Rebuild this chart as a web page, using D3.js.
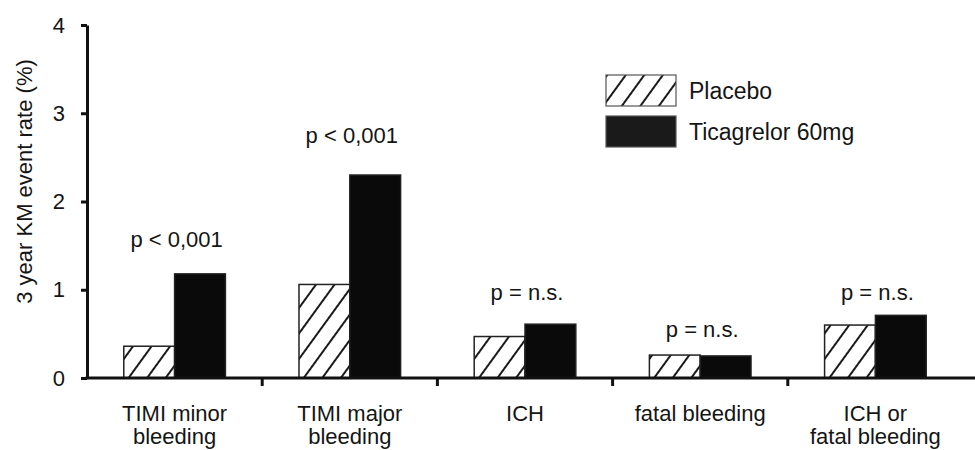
<!DOCTYPE html>
<html>
<head>
<meta charset="utf-8">
<script src="https://cdn.jsdelivr.net/npm/d3@7"></script>
<style>
    body { margin: 0; background: #fff; }
    svg { display: block; font-family: "Liberation Sans", Arial, sans-serif; }
    text { fill: #151515; }
</style>
</head>
<body>
<div id="chart"></div>
<script>
const categories = [
    ["TIMI minor", "bleeding"],
    ["TIMI major", "bleeding"],
    ["ICH"],
    ["fatal bleeding"],
    ["ICH or", "fatal bleeding"]
];
const seriesNames = ["Placebo", "Ticagrelor 60mg"];
const placebo = [0.36, 1.06, 0.47, 0.26, 0.60];
const ticagrelor = [1.18, 2.30, 0.61, 0.25, 0.71];
const pLabels = ["p < 0,001", "p < 0,001", "p = n.s.", "p = n.s.", "p = n.s."];
const pLevels = [1.48, 2.66, 0.88, 0.46, 0.88];
const yTicks = [0, 1, 2, 3, 4];

const WIDTH = 975;
const HEIGHT = 450;
const MARGIN = { top: 25, right: 12, bottom: 72, left: 87 };
const FONT_SIZE = 22;
const INK = "#111";

const svg = d3.select("#chart")
    .append("svg")
    .attr("width", WIDTH)
    .attr("height", HEIGHT);

const defs = svg.append("defs");

const hatch = defs.append("pattern")
    .attr("id", "hatch")
    .attr("patternUnits", "userSpaceOnUse")
    .attr("width", 15)
    .attr("height", 15)
    .attr("patternTransform", "rotate(36)");

hatch.append("rect")
    .attr("width", 15)
    .attr("height", 15)
    .attr("fill", "#fff");

hatch.append("line")
    .attr("x1", 1)
    .attr("y1", 0)
    .attr("x2", 1)
    .attr("y2", 15)
    .attr("stroke", "#1a1a1a")
    .attr("stroke-width", 2);

const x = d3.scaleBand()
    .domain(d3.range(categories.length))
    .range([MARGIN.left, WIDTH - MARGIN.right])
    .paddingInner(0)
    .paddingOuter(0);

const inner = d3.scaleBand()
    .domain([0, 1])
    .range([0, x.bandwidth() * 0.58]);

const y = d3.scaleLinear()
    .domain([0, 4])
    .range([HEIGHT - MARGIN.bottom, MARGIN.top]);

const values = [placebo, ticagrelor];
const fills = ["url(#hatch)", "#0a0a0a"];

// bars
const groups = svg.append("g")
    .attr("class", "bars")
    .selectAll("g")
    .data(categories)
    .join("g")
    .attr("transform", (d, i) => `translate(${ x(i) + (x.bandwidth() - inner.range()[1]) / 2 }, 0)`);

groups.selectAll("rect")
    .data((d, i) => values.map((s, k) => ({ k, v: s[i] })))
    .join("rect")
    .attr("x", d => inner(d.k))
    .attr("y", d => y(d.v))
    .attr("width", inner.bandwidth())
    .attr("height", d => y(0) - y(d.v))
    .attr("fill", d => fills[d.k])
    .attr("stroke", "#222")
    .attr("stroke-width", 1.5);

// p-value annotations
svg.append("g")
    .selectAll("text")
    .data(pLabels)
    .join("text")
    .attr("x", (d, i) => x(i) + x.bandwidth() / 2 + 2)
    .attr("y", (d, i) => y(pLevels[i]))
    .attr("text-anchor", "middle")
    .attr("font-size", FONT_SIZE)
    .text(d => d);

// y axis
const yAxis = svg.append("g")
    .attr("transform", `translate(${ MARGIN.left }, 0)`)
    .call(d3.axisLeft(y)
        .tickValues(yTicks)
        .tickFormat(d3.format("d"))
        .tickSize(6)
        .tickPadding(16)
        .tickSizeOuter(0));

yAxis.select(".domain").attr("stroke", INK).attr("stroke-width", 3);
yAxis.selectAll(".tick line").attr("stroke", INK).attr("stroke-width", 3);
yAxis.selectAll(".tick text")
    .attr("font-size", FONT_SIZE)
    .attr("font-family", "Liberation Sans, Arial, sans-serif")
    .attr("fill", "#151515");

// x axis
const xAxisY = y(0);
svg.append("line")
    .attr("x1", MARGIN.left - 1.5)
    .attr("x2", WIDTH)
    .attr("y1", xAxisY)
    .attr("y2", xAxisY)
    .attr("stroke", INK)
    .attr("stroke-width", 3);

svg.append("g")
    .selectAll("line")
    .data(d3.range(1, categories.length))
    .join("line")
    .attr("x1", i => x(i))
    .attr("x2", i => x(i))
    .attr("y1", xAxisY)
    .attr("y2", xAxisY + 8)
    .attr("stroke", INK)
    .attr("stroke-width", 3);

svg.append("g")
    .selectAll("text")
    .data(categories)
    .join("text")
    .attr("text-anchor", "middle")
    .attr("font-size", FONT_SIZE)
    .attr("x", (d, i) => x(i) + x.bandwidth() / 2)
    .attr("y", xAxisY + 43)
    .each(function (lines) {
        const el = d3.select(this);
        lines.forEach((line, j) => el.append("tspan")
            .attr("x", el.attr("x"))
            .attr("dy", j === 0 ? 0 : 23)
            .text(line));
    });

// y axis title
svg.append("text")
    .attr("transform", `translate(32, ${ (y(0) + y(4)) / 2 - 20 }) rotate(-90)`)
    .attr("text-anchor", "middle")
    .attr("font-size", FONT_SIZE)
    .text("3 year KM event rate (%)");

// legend
const legend = svg.append("g")
    .attr("transform", "translate(606, 75)");

const legendItem = legend.selectAll("g")
    .data(seriesNames)
    .join("g")
    .attr("transform", (d, i) => `translate(0, ${ i * 41 })`);

legendItem.append("rect")
    .attr("width", 70)
    .attr("height", 31)
    .attr("fill", (d, i) => i === 0 ? "url(#hatch)" : "#1a1a1a")
    .attr("stroke", "#555")
    .attr("stroke-width", 1.2);

legendItem.append("text")
    .attr("x", 83)
    .attr("y", 24)
    .attr("font-size", 23)
    .text(d => d);
</script>
</body>
</html>
